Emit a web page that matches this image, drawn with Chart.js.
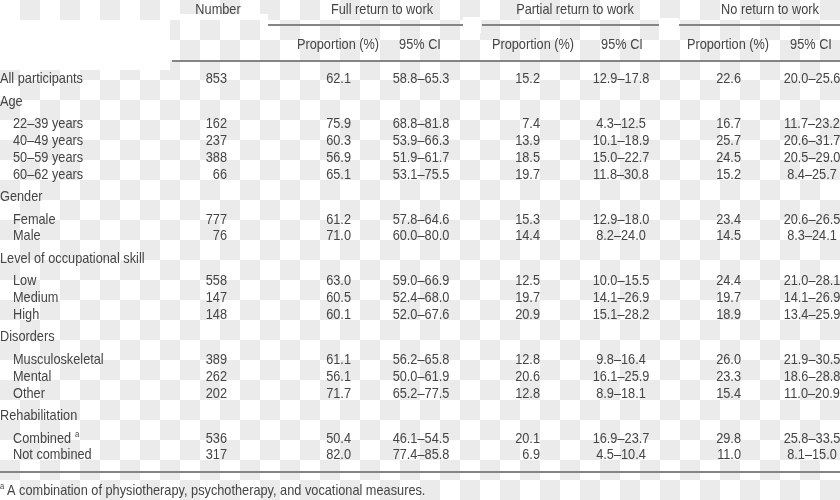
<!DOCTYPE html>
<html>
<head>
<meta charset="utf-8">
<script src="https://cdn.jsdelivr.net/npm/chart.js@4.4.1/dist/chart.umd.min.js"></script>
<style>
  html, body { margin: 0; padding: 0; background: #fff; }
  #wrap { width: 840px; height: 500px; position: relative; }
</style>
</head>
<body>
<div id="wrap"><canvas id="rtwTable"></canvas></div>
<script>
// table rows, group rows are flush left, the others are indented
const rowLabels = ["All participants", "Age", "22–39 years", "40–49 years", "50–59 years", "60–62 years",
  "Gender", "Female", "Male", "Level of occupational skill", "Low", "Medium", "High",
  "Disorders", "Musculoskeletal", "Mental", "Other", "Rehabilitation", "Combined", "Not combined"];
const groupRows = ["All participants", "Age", "Gender", "Level of occupational skill", "Disorders", "Rehabilitation"];
const footnoteRows = ["Combined"];

const groupHeaders = ["Full return to work", "Partial return to work", "No return to work"];
const subHeaders = ["Proportion (%)", "95% CI"];
const footnote = "A combination of physiotherapy, psychotherapy, and vocational measures.";

const number   = [853, null, 162, 237, 388, 66, null, 777, 76, null, 558, 147, 148, null, 389, 262, 202, null, 536, 317];
const fullProp = [62.1, null, 75.9, 60.3, 56.9, 65.1, null, 61.2, 71.0, null, 63.0, 60.5, 60.1, null, 61.1, 56.1, 71.7, null, 50.4, 82.0];
const fullCI   = ["58.8–65.3", null, "68.8–81.8", "53.9–66.3", "51.9–61.7", "53.1–75.5", null, "57.8–64.6", "60.0–80.0", null,
  "59.0–66.9", "52.4–68.0", "52.0–67.6", null, "56.2–65.8", "50.0–61.9", "65.2–77.5", null, "46.1–54.5", "77.4–85.8"];
const partProp = [15.2, null, 7.4, 13.9, 18.5, 19.7, null, 15.3, 14.4, null, 12.5, 19.7, 20.9, null, 12.8, 20.6, 12.8, null, 20.1, 6.9];
const partCI   = ["12.9–17.8", null, "4.3–12.5", "10.1–18.9", "15.0–22.7", "11.8–30.8", null, "12.9–18.0", "8.2–24.0", null,
  "10.0–15.5", "14.1–26.9", "15.1–28.2", null, "9.8–16.4", "16.1–25.9", "8.9–18.1", null, "16.9–23.7", "4.5–10.4"];
const noProp   = [22.6, null, 16.7, 25.7, 24.5, 15.2, null, 23.4, 14.5, null, 24.4, 19.7, 18.9, null, 26.0, 23.3, 15.4, null, 29.8, 11.0];
const noCI     = ["20.0–25.6", null, "11.7–23.2", "20.6–31.7", "20.5–29.0", "8.4–25.7", null, "20.6–26.5", "8.3–24.1", null,
  "21.0–28.1", "14.1–26.9", "13.4–25.9", null, "21.9–30.5", "18.6–28.8", "11.0–20.9", null, "25.8–33.5", "8.1–15.0"];

// layout (scale units are pixels of the 840x500 page)
const INK = "#444";
const RULE = "#858585";
const col = { label: 0, indent: 13, number: 227, fullProp: 351, fullCI: 421, partProp: 540, partCI: 621, noProp: 741, noCI: 812 };
const headerX = { number: 218, groups: [382, 575, 770], subs: [[338, 420], [533, 622], [728, 811]] };
const groupRules = [[268, 463], [482, 659], [679, 840]];

// condensed face: use Liberation Sans Narrow if it is there, else squeeze Liberation Sans
const probe = document.createElement("canvas").getContext("2d");
probe.font = '20px "Liberation Sans Narrow", monospace';
const wNarrow = probe.measureText("All participants").width;
probe.font = "20px monospace";
const hasNarrow = Math.abs(wNarrow - probe.measureText("All participants").width) > 0.5;
const FACE = hasNarrow ? '"Liberation Sans Narrow", sans-serif' : '"Liberation Sans", Arial, sans-serif';
const SIZE = hasNarrow ? 15.5 : 15;
const SQUEEZE = hasNarrow ? 1 : 0.85;

function say(ctx, text, x, y, align, size) {
  ctx.save();
  ctx.font = (size || SIZE) + "px " + FACE;
  ctx.textAlign = align;
  ctx.textBaseline = "middle";
  ctx.translate(x, y);
  ctx.scale(SQUEEZE, 1);
  ctx.fillText(text, 0, 0);
  const w = ctx.measureText(text).width * SQUEEZE;
  ctx.restore();
  return w;
}

const rowY = [];
rowLabels.forEach((lab, i) => {
  if (i === 0) { rowY.push(79); return; }
  const inner = !groupRows.includes(lab) && !groupRows.includes(rowLabels[i - 1]);
  rowY.push(rowY[i - 1] + (inner ? 16.8 : 22.5));
});

function column(values, x, align, fmt) {
  const pts = [];
  values.forEach((v, i) => {
    if (v === null) return;
    pts.push({ x: x, y: rowY[i], text: fmt ? fmt(v) : String(v) });
  });
  return { data: pts, align: align, pointRadius: 0 };
}
const oneDec = v => v.toFixed(1);

const labelSet = {
  data: rowLabels.map((lab, i) => ({ x: groupRows.includes(lab) ? col.label : col.indent, y: rowY[i], text: lab })),
  align: "left", pointRadius: 0
};

// checkered backdrop with the white patches of the source
const backdrop = {
  id: "backdrop",
  beforeDraw(chart) {
    const ctx = chart.ctx;
    ctx.save();
    ctx.fillStyle = "#fff";
    ctx.fillRect(0, 0, chart.width, chart.height);
    ctx.fillStyle = "#ebebeb";
    for (let i = 0; i * 20 < chart.width; i++) {
      for (let j = 0; j * 20 < chart.height; j++) {
        if ((i + j) % 2 === 1) ctx.fillRect(i * 20, j * 20, 20, 20);
      }
    }
    ctx.fillStyle = "#fff";
    ctx.fillRect(0, 20, 170, 50);
    ctx.fillRect(170, 14, 98, 6);
    ctx.fillRect(463, 17, 18, 16);
    ctx.fillRect(659, 18, 20, 22);
    ctx.restore();
  }
};

// writes the cells and the header / rules
const tableText = {
  id: "tableText",
  afterDatasetsDraw(chart) {
    const ctx = chart.ctx;
    const xs = chart.scales.x, ys = chart.scales.y;
    const X = v => xs.getPixelForValue(v), Y = v => ys.getPixelForValue(v);
    ctx.save();
    ctx.fillStyle = INK;

    chart.data.datasets.forEach((ds, di) => {
      const meta = chart.getDatasetMeta(di);
      meta.data.forEach((pt, j) => {
        const raw = ds.data[j];
        const w = say(ctx, raw.text, pt.x, pt.y, ds.align);
        if (ds.align === "left" && footnoteRows.includes(raw.text)) {
          say(ctx, "a", pt.x + w + 4, pt.y - 4, "left", 9);
        }
      });
    });

    // headers
    say(ctx, "Number", X(headerX.number), Y(10), "center");
    groupHeaders.forEach((h, g) => {
      say(ctx, h, X(headerX.groups[g]), Y(10), "center");
      subHeaders.forEach((s, k) => say(ctx, s, X(headerX.subs[g][k]), Y(45), "center"));
    });

    // rules
    ctx.strokeStyle = RULE;
    ctx.lineWidth = 2;
    const rule = (x0, x1, y) => { ctx.beginPath(); ctx.moveTo(X(x0), Y(y)); ctx.lineTo(X(x1), Y(y)); ctx.stroke(); };
    groupRules.forEach(r => rule(r[0], r[1], 25));
    rule(172, 840, 61);
    rule(0, 840, 472);

    // footnote
    say(ctx, "a", X(0), Y(487), "left", 9);
    say(ctx, footnote, X(7), Y(491), "left");
    ctx.restore();
  }
};

new Chart(document.getElementById("rtwTable"), {
  type: "scatter",
  data: {
    datasets: [
      labelSet,
      column(number, col.number, "right"),
      column(fullProp, col.fullProp, "right", oneDec),
      column(fullCI, col.fullCI, "center"),
      column(partProp, col.partProp, "right", oneDec),
      column(partCI, col.partCI, "center"),
      column(noProp, col.noProp, "right", oneDec),
      column(noCI, col.noCI, "center")
    ]
  },
  options: {
    responsive: true,
    maintainAspectRatio: false,
    animation: false,
    events: [],
    layout: { padding: 0 },
    scales: {
      x: { type: "linear", min: 0, max: 840, display: false },
      y: { type: "linear", min: 0, max: 500, reverse: true, display: false }
    },
    plugins: { legend: { display: false }, tooltip: { enabled: false } }
  },
  plugins: [backdrop, tableText]
});
</script>
</body>
</html>
